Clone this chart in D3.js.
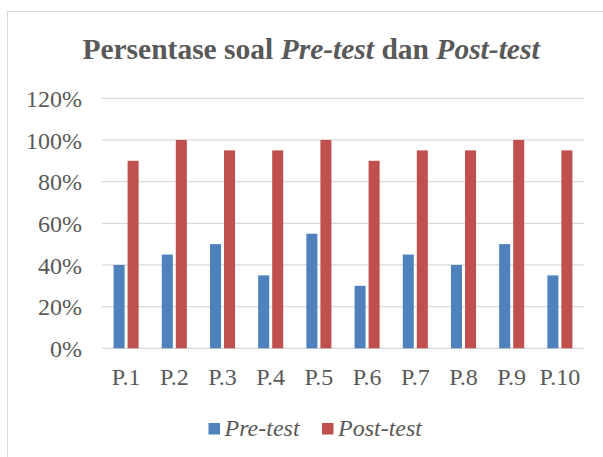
<!DOCTYPE html>
<html>
<head>
<meta charset="utf-8">
<script src="https://cdn.jsdelivr.net/npm/d3@7"></script>
<style>
  body { margin: 0; background: #fff; }
</style>
</head>
<body>
<div class="chart"></div>
<script>
const categories = ["P.1", "P.2", "P.3", "P.4", "P.5", "P.6", "P.7", "P.8", "P.9", "P.10"];
const preTest = [40, 45, 50, 35, 55, 30, 45, 40, 50, 35];
const postTest = [90, 100, 95, 95, 100, 90, 95, 95, 100, 95];
const yTicks = [0, 20, 40, 60, 80, 100, 120];
const seriesNames = ["Pre-test", "Post-test"];
const seriesColors = ["#4f81bd", "#c0504d"];

const svgWidth = 603;
const svgHeight = 457;
const serif = "'Liberation Serif'";

let svg = d3.select(".chart")
            .append("svg")
            .attr("width", svgWidth)
            .attr("height", svgHeight);

// chart border (runs off the right / bottom like the screenshot)
svg.append("rect")
   .attr("x", 7.5)
   .attr("y", 11.5)
   .attr("width", 620)
   .attr("height", 470)
   .attr("fill", "none")
   .attr("stroke", "#d9d9d9")
   .attr("stroke-width", 1);

// title with italic parts
const title = svg.append("text")
                 .attr("x", 311)
                 .attr("y", 59)
                 .attr("text-anchor", "middle")
                 .attr("fill", "#595959")
                 .style("font-family", serif)
                 .style("font-size", "29.5px")
                 .style("font-weight", "bold");
title.append("tspan").text("Persentase soal ");
title.append("tspan").style("font-style", "italic").text("Pre-test");
title.append("tspan").text(" dan ");
title.append("tspan").style("font-style", "italic").text("Post-test");

const xScale = d3.scaleBand()
                 .domain(categories)
                 .range([102, 584])
                 .paddingInner(0.48)
                 .paddingOuter(0.24);

const xInner = d3.scaleBand()
                 .domain(seriesNames)
                 .range([0, xScale.bandwidth()])
                 .paddingInner(0.214);

const yScale = d3.scaleLinear()
                 .domain([0, 120])
                 .range([348.3, 98.3]);

// gridlines
svg.append("g")
   .selectAll("line")
   .data(yTicks)
   .enter()
   .append("line")
   .attr("x1", 102)
   .attr("x2", 584)
   .attr("y1", d => yScale(d))
   .attr("y2", d => yScale(d))
   .attr("stroke", "#d9d9d9")
   .attr("stroke-width", 1.3);

const yAxis = d3.axisLeft(yScale)
                .tickValues(yTicks)
                .tickSize(0)
                .tickPadding(0)
                .tickFormat(d => d + "%");

svg.append("g")
   .attr("transform", "translate(82,0)")
   .call(yAxis)
   .attr("font-family", null)
   .attr("font-size", null)
   .call(g => g.select(".domain").remove())
   .selectAll("text")
   .style("font-family", serif)
   .style("font-size", "24px")
   .attr("fill", "#595959")
   .attr("dy", "0.34em");

const xAxis = d3.axisBottom(xScale).tickSize(0).tickPadding(0);

svg.append("g")
   .attr("transform", "translate(0,385)")
   .call(xAxis)
   .attr("font-family", null)
   .attr("font-size", null)
   .call(g => g.select(".domain").remove())
   .selectAll("text")
   .style("font-family", serif)
   .style("font-size", "24px")
   .attr("fill", "#595959")
   .attr("dy", 0)
   .attr("y", 0);

const rows = categories.map((c, i) => ({ cat: c, values: [preTest[i], postTest[i]] }));

svg.append("g")
   .selectAll("g")
   .data(rows)
   .enter()
   .append("g")
   .attr("transform", d => "translate(" + xScale(d.cat) + ",0)")
   .selectAll("rect")
   .data(d => d.values.map((v, k) => ({ name: seriesNames[k], value: v, color: seriesColors[k] })))
   .enter()
   .append("rect")
   .attr("x", d => xInner(d.name))
   .attr("width", xInner.bandwidth())
   .attr("y", d => yScale(d.value))
   .attr("height", d => yScale(0) - yScale(d.value))
   .attr("fill", d => d.color);

// legend
const legendX = [208.5, 322];
const legend = svg.append("g");
seriesNames.forEach((name, k) => {
  legend.append("rect")
        .attr("x", legendX[k])
        .attr("y", 423)
        .attr("width", 11.5)
        .attr("height", 11.5)
        .attr("fill", seriesColors[k]);
  legend.append("text")
        .attr("x", legendX[k] + 16)
        .attr("y", 436)
        .attr("fill", "#595959")
        .style("font-family", serif)
        .style("font-size", "24px")
        .style("font-style", "italic")
        .text(name);
});
</script>
</body>
</html>
